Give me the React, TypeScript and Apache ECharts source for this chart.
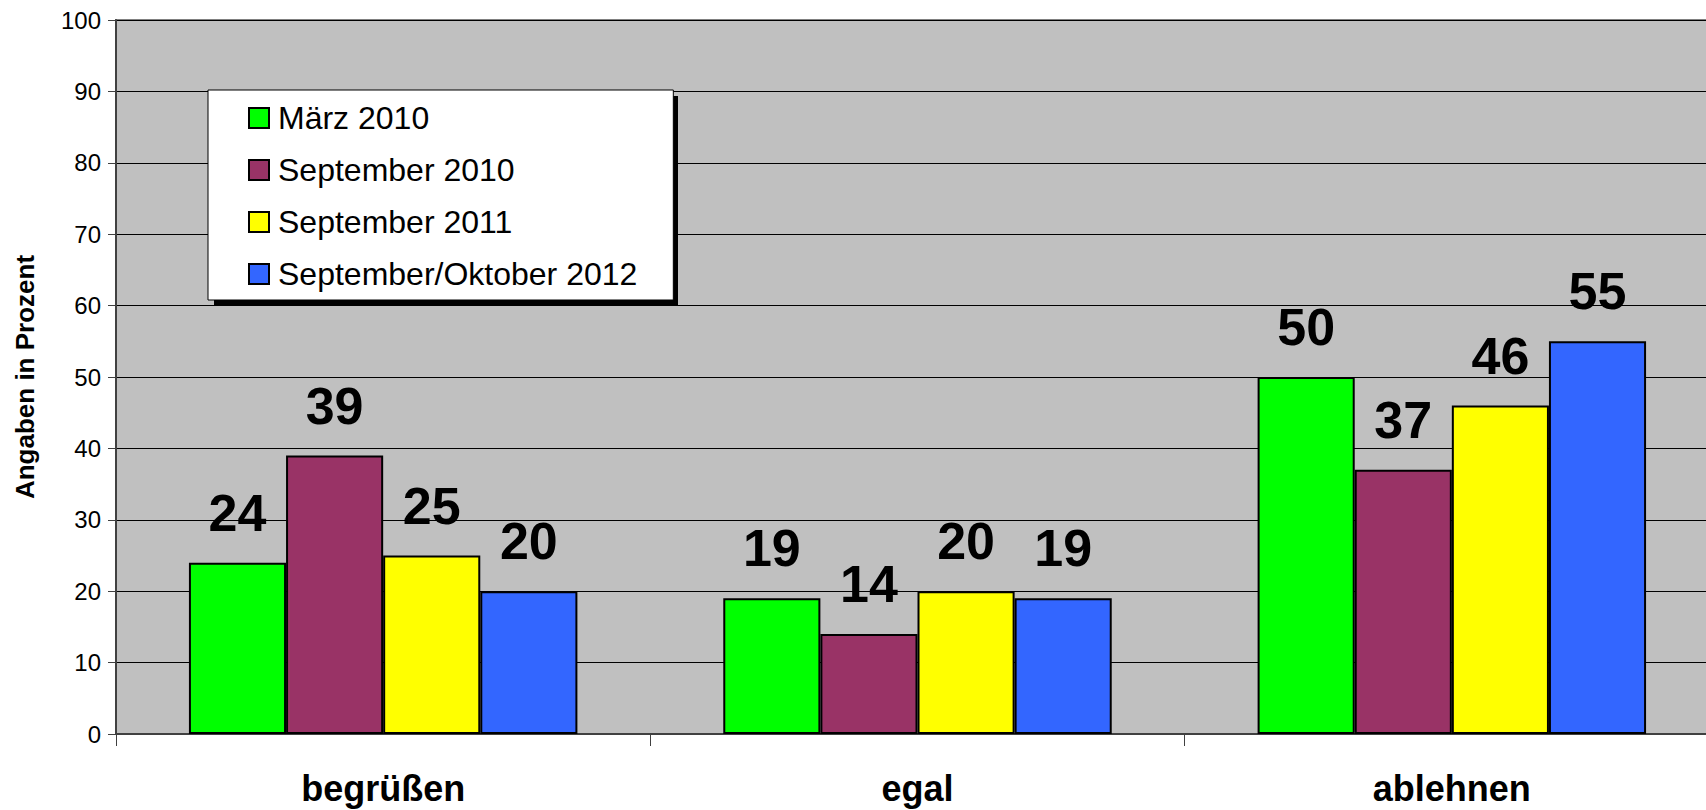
import React, { useEffect, useRef } from "react";
import * as echarts from "echarts";

const categories = ["begrüßen", "egal", "ablehnen"];
const seriesNames = ["März 2010", "September 2010", "September 2011", "September/Oktober 2012"];
const maerz2010 = [24, 19, 50];
const september2010 = [39, 14, 37];
const september2011 = [25, 20, 46];
const septOkt2012 = [20, 19, 55];
const seriesColors = ["#00ff00", "#993366", "#ffff00", "#3366ff"];
const yTicks = [0, 10, 20, 30, 40, 50, 60, 70, 80, 90, 100];

const FONT = "Arial, 'Liberation Sans', sans-serif";

export default function App() {
  const ref = useRef<HTMLDivElement>(null);
  useEffect(() => {
    if (!ref.current) return;
    document.body.style.overflow = "hidden";
    const chart = echarts.init(ref.current, null, { renderer: "svg" });
    const values = [maerz2010, september2010, september2011, septOkt2012];
    chart.setOption({
      animation: false,
      backgroundColor: "#ffffff",
      textStyle: { fontFamily: FONT },
      grid: {
        left: 116,
        top: 20,
        right: 1,
        bottom: 76,
        show: true,
        backgroundColor: "#c0c0c0",
        borderColor: "#808080",
        borderWidth: 2,
      },
      legend: {
        orient: "vertical",
        left: 208,
        top: 90,
        padding: [12, 36, 10, 40],
        itemGap: 20,
        itemWidth: 20,
        itemHeight: 20,
        icon: "rect",
        backgroundColor: "#ffffff",
        borderColor: "#000000",
        borderWidth: 1,
        itemStyle: { borderColor: "#000000", borderWidth: 2 },
        textStyle: { fontSize: 32, color: "#000", fontFamily: FONT, padding: [0, 0, 0, 4] },
        data: seriesNames,
        z: 10,
      },
      graphic: [
        {
          type: "rect",
          left: 214,
          top: 96,
          shape: { width: 464, height: 210 },
          style: { fill: "#000000" },
          z: 5,
        },
      ],
      xAxis: {
        type: "category",
        data: categories,
        axisLine: { show: true, lineStyle: { color: "#404040", width: 2 } },
        axisTick: { show: true, length: 12, lineStyle: { color: "#404040", width: 1 } },
        axisLabel: { fontSize: 36, fontWeight: "bold", color: "#000", margin: 36, fontFamily: FONT },
      },
      yAxis: {
        type: "value",
        min: 0,
        max: 100,
        interval: 10,
        name: "Angaben in Prozent",
        nameLocation: "middle",
        nameGap: 78,
        nameTextStyle: { fontSize: 26, fontWeight: "bold", color: "#000", fontFamily: FONT },
        axisLine: { show: true, lineStyle: { color: "#404040", width: 2 } },
        axisTick: { show: true, inside: false, length: 8, lineStyle: { color: "#404040" } },
        axisLabel: {
          fontSize: 24,
          color: "#000",
          margin: 15,
          fontFamily: FONT,
          formatter: (v: number) => (yTicks.includes(v) ? String(v) : ""),
        },
        splitLine: { show: true, lineStyle: { color: "#000000", width: 1 } },
      },
      series: seriesNames.map((name, i) => ({
        name,
        type: "bar",
        data: values[i],
        barGap: "0%",
        barCategoryGap: "27.3%",
        itemStyle: { color: seriesColors[i], borderColor: "#000000", borderWidth: 2 },
        label: {
          show: true,
          position: "top",
          distance: 24,
          fontSize: 52,
          fontWeight: "bold",
          color: "#000",
          fontFamily: FONT,
        },
      })),
    });
    return () => chart.dispose();
  }, []);
  return (
    <div
      ref={ref}
      style={{ position: "fixed", left: 0, top: 0, width: 1720, height: 810 }}
    />
  );
}
